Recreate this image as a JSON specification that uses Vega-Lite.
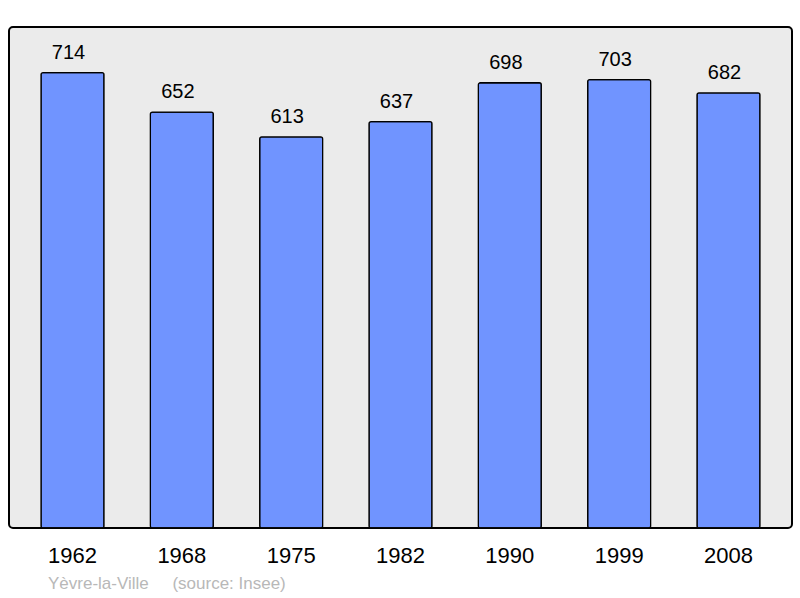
{
  "$schema": "https://vega.github.io/schema/vega-lite/v6.json",
  "width": 783,
  "height": 501,
  "autosize": {"type": "none"},
  "padding": {"left": 9, "top": 27, "right": 8, "bottom": 70},
  "background": "white",
  "config": {
    "font": "Liberation Sans",
    "view": {"fill": "#ebebeb", "stroke": "black", "strokeWidth": 2, "cornerRadius": 4}
  },
  "title": {
    "text": "Yèvre-la-Ville\u00a0\u00a0\u00a0\u00a0 (source: Insee)",
    "orient": "bottom",
    "anchor": "start",
    "dx": 39,
    "offset": 10,
    "fontSize": 17,
    "fontWeight": "normal",
    "color": "#b8b8b8"
  },
  "data": {
    "values": [
      {"year": "1962", "pop": 714},
      {"year": "1968", "pop": 652},
      {"year": "1975", "pop": 613},
      {"year": "1982", "pop": 637},
      {"year": "1990", "pop": 698},
      {"year": "1999", "pop": 703},
      {"year": "2008", "pop": 682}
    ]
  },
  "encoding": {
    "x": {
      "field": "year",
      "type": "ordinal",
      "title": null,
      "scale": {"paddingInner": 0.424, "paddingOuter": 0.293},
      "axis": {"domain": false, "ticks": false, "labelAngle": 0, "labelFontSize": 22, "labelColor": "black", "labelPadding": 17}
    },
    "y": {
      "field": "pop",
      "type": "quantitative",
      "scale": {"domain": [0, 785.4], "nice": false},
      "axis": null
    }
  },
  "layer": [
    {
      "mark": {"type": "bar", "fill": "#7094ff", "stroke": "black", "strokeWidth": 1.3, "cornerRadius": 2}
    },
    {
      "mark": {"type": "text", "dx": -4, "dy": -14, "baseline": "alphabetic", "fontSize": 20, "color": "black"},
      "encoding": {"text": {"field": "pop", "type": "quantitative"}}
    }
  ]
}
